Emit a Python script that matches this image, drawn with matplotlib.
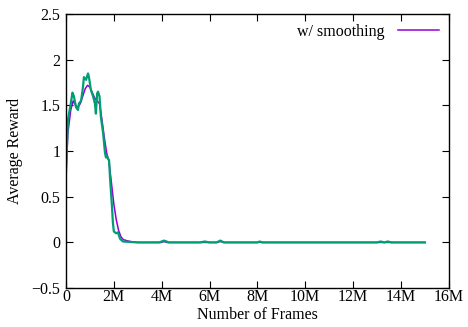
import matplotlib.pyplot as plt
from matplotlib.ticker import FixedLocator

# raw curve (green), frames in millions
raw_frames = [0, 0.08, 0.2, 0.27, 0.33, 0.42, 0.5, 0.54, 0.63, 0.71, 0.75, 0.84,
              0.92, 0.96, 1.04, 1.13, 1.21, 1.25, 1.3, 1.34, 1.4, 1.46, 1.55, 1.63,
              1.67, 1.71, 1.75, 1.8, 1.84, 1.92, 1.96, 2.0, 2.09, 2.17, 2.26, 2.38,
              2.67, 3.0, 3.5, 3.9, 4.1, 4.3, 5.0, 5.6, 5.8, 6.0, 6.3, 6.45, 6.6,
              7.5, 8.0, 8.1, 8.2, 9.0, 11.0, 13.0, 13.15, 13.3, 13.45, 13.6, 14.0, 15.0]
raw_reward = [0.76, 1.34, 1.52, 1.64, 1.6, 1.48, 1.45, 1.52, 1.55, 1.7, 1.81, 1.78,
              1.85, 1.81, 1.67, 1.6, 1.52, 1.41, 1.63, 1.65, 1.6, 1.37, 1.2, 0.98,
              0.93, 0.95, 0.92, 0.9, 0.71, 0.4, 0.22, 0.12, 0.1, 0.11, 0.04, 0.01,
              0.005, 0.0, 0.0, 0.0, 0.02, 0.0, 0.0, 0.0, 0.01, 0.0, 0.0, 0.02, 0.0,
              0.0, 0.0, 0.01, 0.0, 0.0, 0.0, 0.0, 0.01, 0.0, 0.01, 0.0, 0.0, 0.0]

# smoothed curve (purple)
smooth_frames = [0, 0.08, 0.2, 0.3, 0.4, 0.5, 0.6, 0.7, 0.8, 0.9, 1.0, 1.1, 1.2,
                 1.3, 1.4, 1.5, 1.6, 1.7, 1.8, 1.9, 2.0, 2.1, 2.2, 2.3, 2.4, 2.6,
                 2.8, 3.0, 4.0, 4.1, 4.2, 6.3, 6.45, 6.6, 8.0, 8.1, 8.2, 15.0]
smooth_reward = [0.75, 1.2, 1.45, 1.55, 1.5, 1.48, 1.52, 1.6, 1.68, 1.72, 1.7,
                 1.64, 1.58, 1.55, 1.52, 1.35, 1.15, 0.98, 0.88, 0.65, 0.42, 0.25,
                 0.13, 0.06, 0.03, 0.015, 0.005, 0.0, 0.0, 0.01, 0.0, 0.0, 0.01,
                 0.0, 0.0, 0.005, 0.0, 0.0]

x_ticks = [0, 2, 4, 6, 8, 10, 12, 14, 16]
x_labels = ["0", "2M", "4M", "6M", "8M", "10M", "12M", "14M", "16M"]
y_ticks = [-0.5, 0, 0.5, 1, 1.5, 2, 2.5]
y_labels = ["\u22120.5", "0", "0.5", "1", "1.5", "2", "2.5"]

plt.rcParams["font.family"] = ["Liberation Serif", "DejaVu Serif"]
plt.rcParams["font.size"] = 11.5

fig = plt.figure(figsize=(4.68, 3.27), dpi=100)
ax = fig.add_axes([0.141, 0.119, 0.818, 0.838])

ax.plot(smooth_frames, smooth_reward, color="#9400d3", lw=1.1, label="w/ smoothing")
ax.plot(raw_frames, raw_reward, color="#009e73", lw=1.6)

ax.set_xlim(0, 16)
ax.set_ylim(-0.5, 2.5)
ax.xaxis.set_major_locator(FixedLocator(x_ticks))
ax.set_xticklabels(x_labels)
ax.yaxis.set_major_locator(FixedLocator(y_ticks))
ax.set_yticklabels(y_labels)
ax.tick_params(direction="in", top=True, right=True, length=5, width=0.8)
ax.tick_params(axis="x", pad=1)
ax.tick_params(axis="y", pad=4)
for s in ax.spines.values():
    s.set_linewidth(1.0)

ax.set_xlabel("Number of Frames", labelpad=1)
ax.set_ylabel("Average Reward", labelpad=6)

leg = ax.legend(loc="upper right", frameon=False, markerfirst=False,
                handlelength=2.6, borderaxespad=0.2, handletextpad=0.8)

fig.savefig("out.png", dpi=100)
